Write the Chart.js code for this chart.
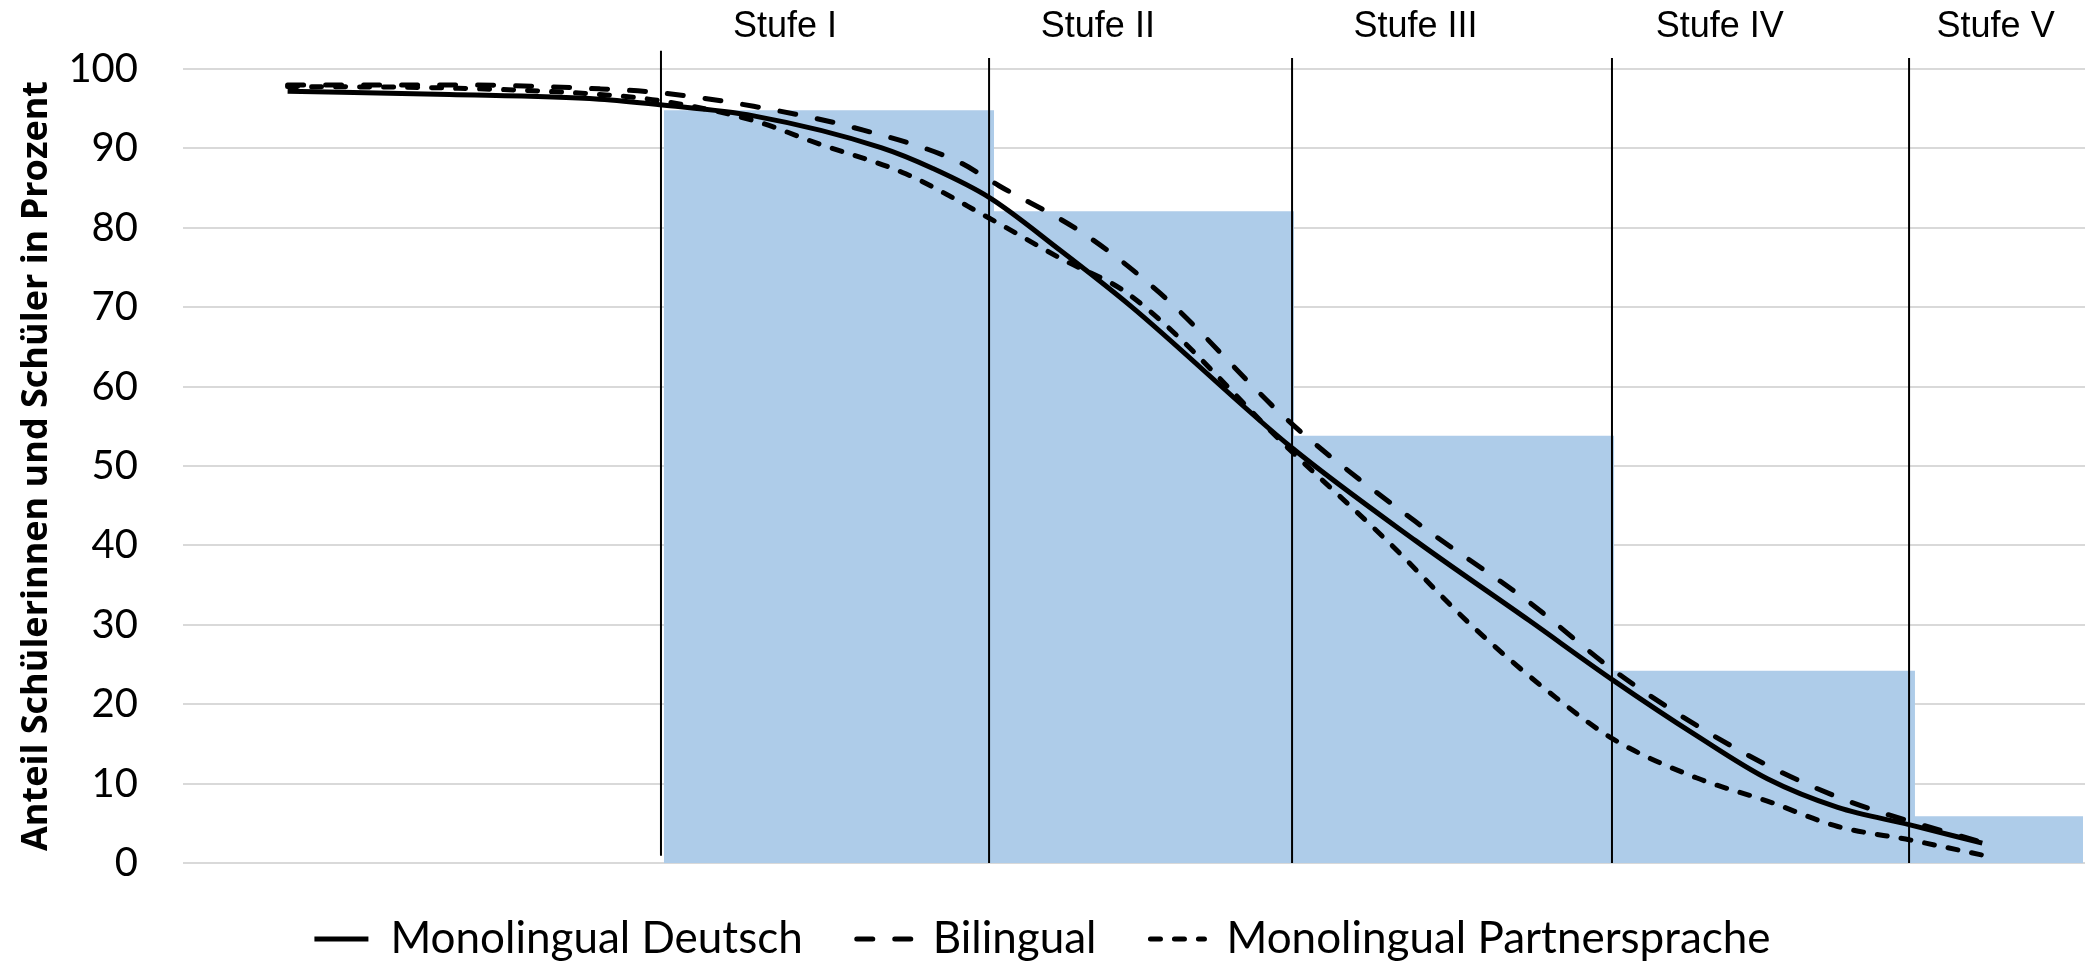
<!DOCTYPE html>
<html>
  <head>
    <meta charset="utf-8">
    <title>Kompetenzstufen</title>
    <style>
      html, body {
        margin: 0;
        padding: 0;
        background: #fff;
        overflow: hidden;
      }
    </style>
  </head>
  <body>
    <canvas id="chart" width="2093" height="963"></canvas>
    <script src="https://cdn.jsdelivr.net/npm/chart.js@4.4.1/dist/chart.umd.min.js"></script>
    <script>
      // stage labels on top, placed on the (hidden) score axis
      const stageLabels = ['Stufe I', 'Stufe II', 'Stufe III', 'Stufe IV', 'Stufe V'];
      const stagePos = [31.65, 48.1, 64.8, 80.8, 95.3];

      // cut-off lines between the stages
      const cutoffs = [25.13, 42.38, 58.31, 75.13, 90.75];
      const cutoffTop = [102.3, 101.4, 101.4, 101.4, 101.4];
      const cutoffBottom = [0.9, 0, 0, 0, 0];

      // blue blocks: left edges (+ last right edge) and heights
      const barEdges = [25.28, 42.64, 58.41, 75.24, 91.06, 99.9];
      const barValues = [94.8, 82.1, 53.8, 24.2, 5.9];

      // curves
      const deutschX = [5.5, 14.0, 21.9, 25.1, 30.0, 36.7, 39.4, 42.4, 46.1, 49.8, 58.3, 64.8, 70.8, 75.2, 79.6, 83.3, 87.0, 90.8, 94.6];
      const deutschY = [97.2, 96.8, 96.2, 95.5, 94.1, 90.1, 87.5, 83.8, 77.2, 70.2, 52.3, 40.6, 30.5, 23.0, 16.0, 10.6, 7.0, 4.8, 2.5];

      const bilingualX = [5.5, 14.0, 21.9, 25.1, 30.0, 35.3, 40.7, 42.9, 47.4, 51.4, 58.3, 64.8, 70.8, 75.2, 79.6, 83.3, 87.0, 89.5, 94.6];
      const bilingualY = [98.0, 98.0, 97.5, 97.0, 95.3, 92.6, 88.4, 85.3, 79.2, 71.7, 55.3, 43.0, 32.8, 24.3, 17.3, 12.3, 8.3, 6.2, 2.6];

      const partnerX = [5.5, 14.0, 21.9, 25.1, 30.0, 33.4, 38.0, 42.4, 46.1, 49.8, 58.3, 63.3, 67.8, 72.2, 75.2, 79.6, 83.3, 87.0, 90.8, 94.6];
      const partnerY = [97.8, 97.6, 96.8, 96.0, 93.5, 90.6, 86.8, 81.2, 76.2, 71.5, 51.8, 40.6, 29.8, 20.8, 15.6, 10.7, 7.8, 4.6, 2.9, 1.0];

      const yTitle = 'Anteil Schülerinnen und Schüler in Prozent';

      const toPoints = (xs, ys) => xs.map((x, i) => ({x: x, y: ys[i]}));

      const curve = (label, xs, ys, dash) => ({
        label: label,
        data: toPoints(xs, ys),
        borderColor: '#000',
        backgroundColor: '#000',
        borderWidth: 5,
        borderDash: dash,
        borderCapStyle: dash.length ? 'round' : 'butt',
        cubicInterpolationMode: 'monotone',
        pointRadius: 0,
        fill: false
      });

      const datasets = [
        curve('Monolingual Deutsch', deutschX, deutschY, []),
        curve('Bilingual', bilingualX, bilingualY, [16, 22]),
        curve('Monolingual Partnersprache', partnerX, partnerY, [10, 14])
      ];

      cutoffs.forEach((c, i) => {
        datasets.push({
          label: 'cut' + i,
          data: [{x: c, y: cutoffBottom[i]}, {x: c, y: cutoffTop[i]}],
          borderColor: '#000',
          borderWidth: 2,
          pointRadius: 0,
          fill: false,
          clip: false
        });
      });

      datasets.push({
        label: 'Stufen',
        data: barEdges.map((x, i) => ({x: x, y: barValues[Math.min(i, barValues.length - 1)]})),
        stepped: 'before',
        fill: 'origin',
        backgroundColor: '#AECCE9',
        borderColor: 'rgba(0,0,0,0)',
        borderWidth: 0,
        pointRadius: 0
      });

      Chart.defaults.color = '#000';

      // legend entries: line samples with the dataset's own dash
      const legendLabels = (chart) => {
        const items = Chart.defaults.plugins.legend.labels.generateLabels(chart);
        return items.filter(item => item.datasetIndex < 3).map(item => {
          const ds = chart.data.datasets[item.datasetIndex];
          item.pointStyle = 'line';
          item.lineWidth = ds.borderWidth;
          item.lineDash = ds.borderDash;
          item.lineCap = ds.borderCapStyle;
          item.strokeStyle = '#000';
          return item;
        });
      };

      const ctx = document.getElementById('chart').getContext('2d');
      const chart = new Chart(ctx, {
        type: 'line',
        data: { datasets: datasets },
        options: {
          responsive: false,
          animation: false,
          layout: { padding: { left: 0, right: 8, top: 0, bottom: -8 } },
          plugins: {
            tooltip: { enabled: false },
            legend: {
              position: 'bottom',
              labels: {
                generateLabels: legendLabels,
                usePointStyle: true,
                pointStyle: 'line',
                pointStyleWidth: 54,
                padding: 54,
                color: '#000',
                font: { family: 'Lato', size: 44 }
              }
            }
          },
          scales: {
            x: { type: 'linear', min: 0, max: 100, display: false },
            x2: {
              type: 'linear',
              position: 'top',
              min: 0,
              max: 100,
              grid: { display: false, drawTicks: false },
              border: { display: false },
              afterBuildTicks: (scale) => {
                scale.ticks = stagePos.map(v => ({value: v}));
              },
              ticks: {
                autoSkip: false,
                maxRotation: 0,
                padding: 20,
                color: '#000',
                font: { family: 'Liberation Sans', size: 36 },
                callback: (v, i) => stageLabels[i]
              },
              afterFit: (scale) => { scale.height = 68; }
            },
            y: {
              min: 0,
              max: 100,
              ticks: {
                stepSize: 10,
                padding: 45,
                color: '#000',
                font: { family: 'Lato', size: 40 }
              },
              grid: { color: '#D9D9D9', lineWidth: 2, drawTicks: false },
              border: { display: false },
              title: {
                display: true,
                text: yTitle,
                color: '#000',
                font: { family: 'Open Sans', size: 36, weight: 'bold' },
                padding: { top: 15, bottom: 0 }
              },
              afterFit: (scale) => { scale.width = 183; }
            }
          }
        }
      });
    </script>
  </body>
</html>
